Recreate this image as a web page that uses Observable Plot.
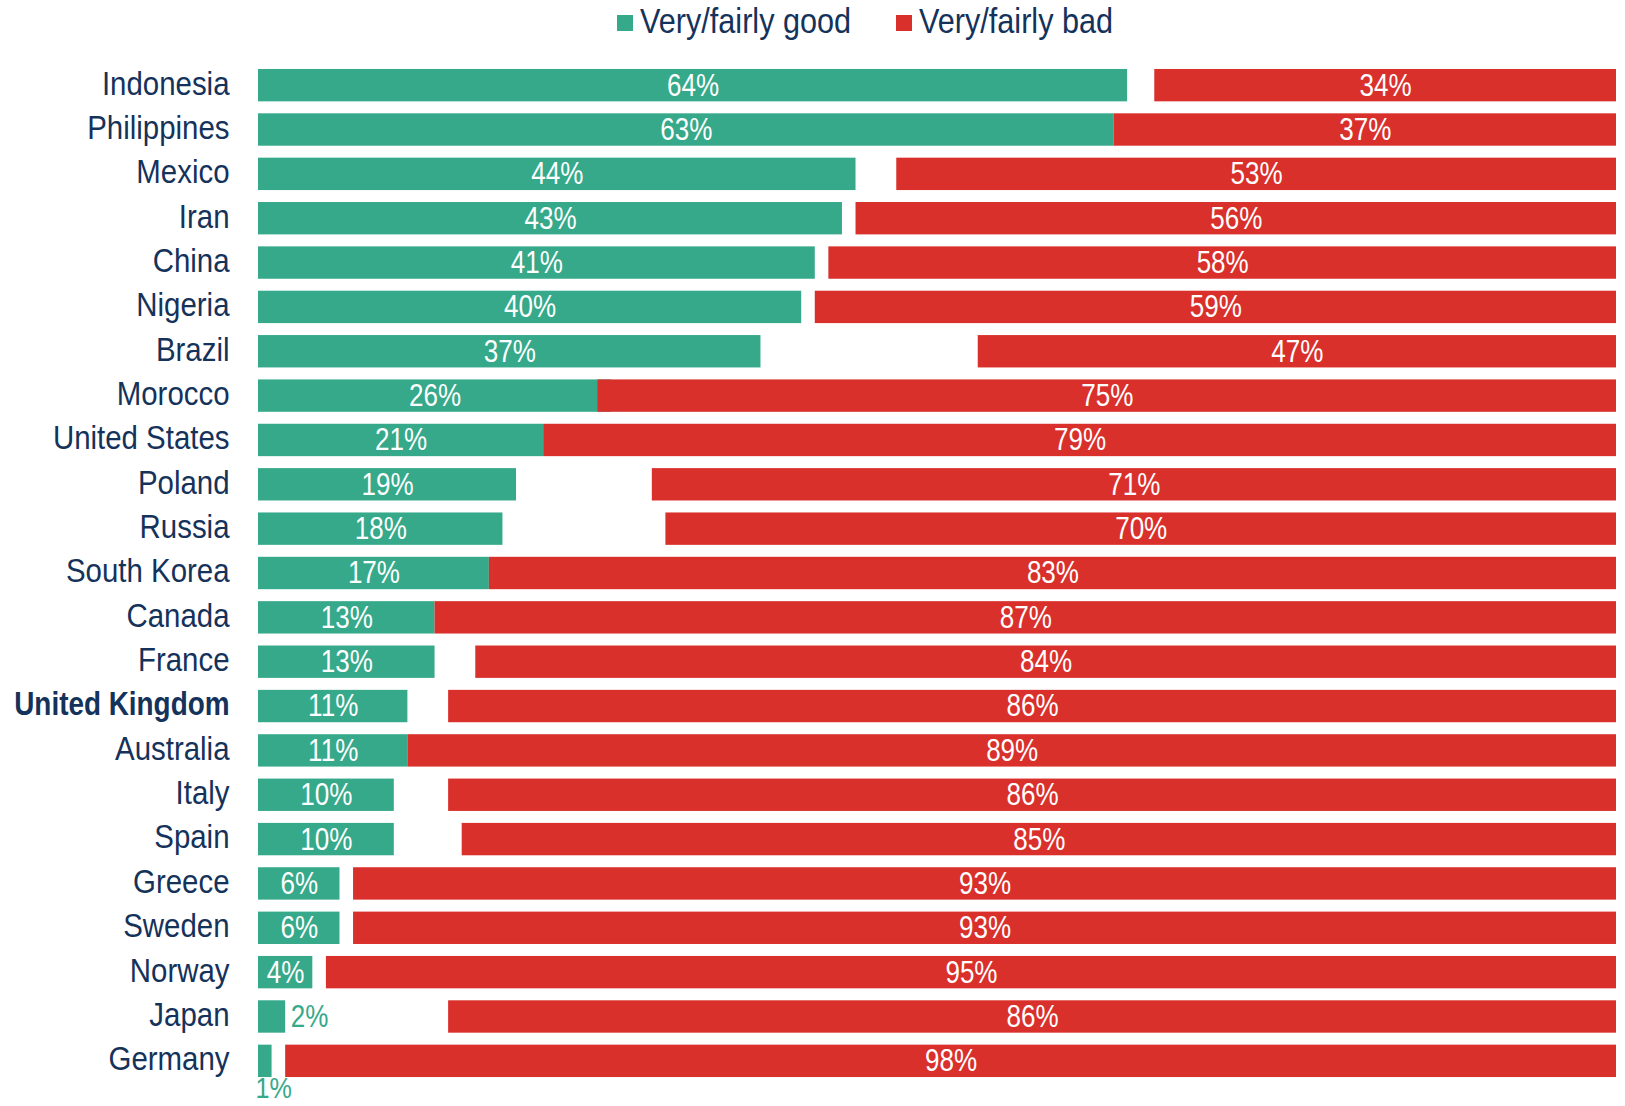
<!DOCTYPE html>
<html>
<head>
<meta charset="utf-8">
<script src="https://cdn.jsdelivr.net/npm/d3@7"></script>
<script src="https://cdn.jsdelivr.net/npm/@observablehq/plot@0.6"></script>
<style>
  html, body { margin: 0; padding: 0; background: #fff; }
  body { width: 1625px; height: 1106px; overflow: hidden; font-family: "Liberation Sans", Arial, sans-serif; }
  #legend { position: relative; height: 50px; }
  .item { position: absolute; top: -1px; display: flex; align-items: center; font-size: 35px; color: #15325a; height: 44px; }
  .sw { width: 16px; height: 16px; margin-right: 7px; margin-top: 4px; flex: none; }
  .lbl { display: inline-block; transform: scaleX(0.875); transform-origin: left center; white-space: nowrap; }
  #chart svg { display: block; }
</style>
</head>
<body>
<div id="legend"></div>
<div id="chart"></div>
<script>
const countries = ["Indonesia","Philippines","Mexico","Iran","China","Nigeria","Brazil","Morocco","United States","Poland","Russia","South Korea","Canada","France","United Kingdom","Australia","Italy","Spain","Greece","Sweden","Norway","Japan","Germany"];
const good = [64,63,44,43,41,40,37,26,21,19,18,17,13,13,11,11,10,10,6,6,4,2,1];
const bad  = [34,37,53,56,58,59,47,75,79,71,70,83,87,84,86,89,86,85,93,93,95,86,98];
const seriesNames = ["Very/fairly good","Very/fairly bad"];
const seriesColors = ["#35a98a","#d9302c"];
const highlight = "United Kingdom";

const navy = "#15325a";
const data = countries.map((c, i) => ({country: c, good: good[i], bad: bad[i]}));

// legend
const legend = document.getElementById("legend");
const legendX = [617, 896];
seriesNames.forEach((name, i) => {
  const it = document.createElement("div");
  it.className = "item";
  it.style.left = legendX[i] + "px";
  it.innerHTML = `<div class="sw" style="background:${seriesColors[i]}"></div><span class="lbl">${name}</span>`;
  legend.appendChild(it);
});

const font = `"Liberation Sans", Arial, sans-serif`;

const chart = Plot.plot({
  width: 1625,
  height: 1056,
  marginTop: 7,
  marginBottom: 17,
  marginLeft: 258,
  marginRight: 9,
  style: {fontFamily: font, fontSize: "34px", color: navy, background: "#fff"},
  x: {domain: [0, 100], axis: null},
  y: {domain: countries, padding: 0.27, round: false, axis: null},
  marks: [
    Plot.axisY({ticks: countries.filter(c => c !== highlight), tickSize: 0, tickPadding: 29, fontSize: 34, fill: navy, label: null, dy: -2, className: "sq-axis"}),
    Plot.axisY({ticks: [highlight], tickSize: 0, tickPadding: 29, fontSize: 34, fontWeight: "bold", fill: navy, label: null, dy: -2, className: "sq-bold"}),
    Plot.barX(data, {y: "country", x1: d => 0, x2: "good", fill: seriesColors[0]}),
    Plot.barX(data, {y: "country", x1: d => 100 - d.bad, x2: d => 100, fill: seriesColors[1]}),
    Plot.text(data.filter(d => d.good >= 3), {y: "country", x: d => d.good / 2, text: d => d.good + "%", fill: "white", fontSize: 31, className: "sq-val"}),
    Plot.text(data.filter(d => d.good === 2), {y: "country", x: "good", text: d => d.good + "%", fill: seriesColors[0], fontSize: 31, textAnchor: "start", dx: 5, className: "sq-val"}),
    Plot.text(data.filter(d => d.good < 2), {y: "country", x: d => 0, text: d => d.good + "%", fill: seriesColors[0], fontSize: 30, textAnchor: "start", dx: -3, dy: 27, className: "sq-val"}),
    Plot.text(data, {y: "country", x: d => 100 - d.bad / 2, text: d => d.bad + "%", fill: "white", fontSize: 31, className: "sq-val"})
  ]
});
document.getElementById("chart").appendChild(chart);

// narrow the glyphs to match the condensed typeface of the original
const squeeze = {"sq-axis": 0.865, "sq-bold": 0.82, "sq-val": 0.84};
Object.entries(squeeze).forEach(([cls, k]) => {
  chart.querySelectorAll(`g.${cls} text`).forEach(t => {
    const spans = t.querySelectorAll("tspan");
    const targets = spans.length ? Array.from(spans) : [t];
    targets.forEach(el => {
      const L = el.getComputedTextLength();
      if (L > 0) {
        el.setAttribute("textLength", (L * k).toFixed(2));
        el.setAttribute("lengthAdjust", "spacingAndGlyphs");
      }
    });
  });
});
</script>
</body>
</html>
